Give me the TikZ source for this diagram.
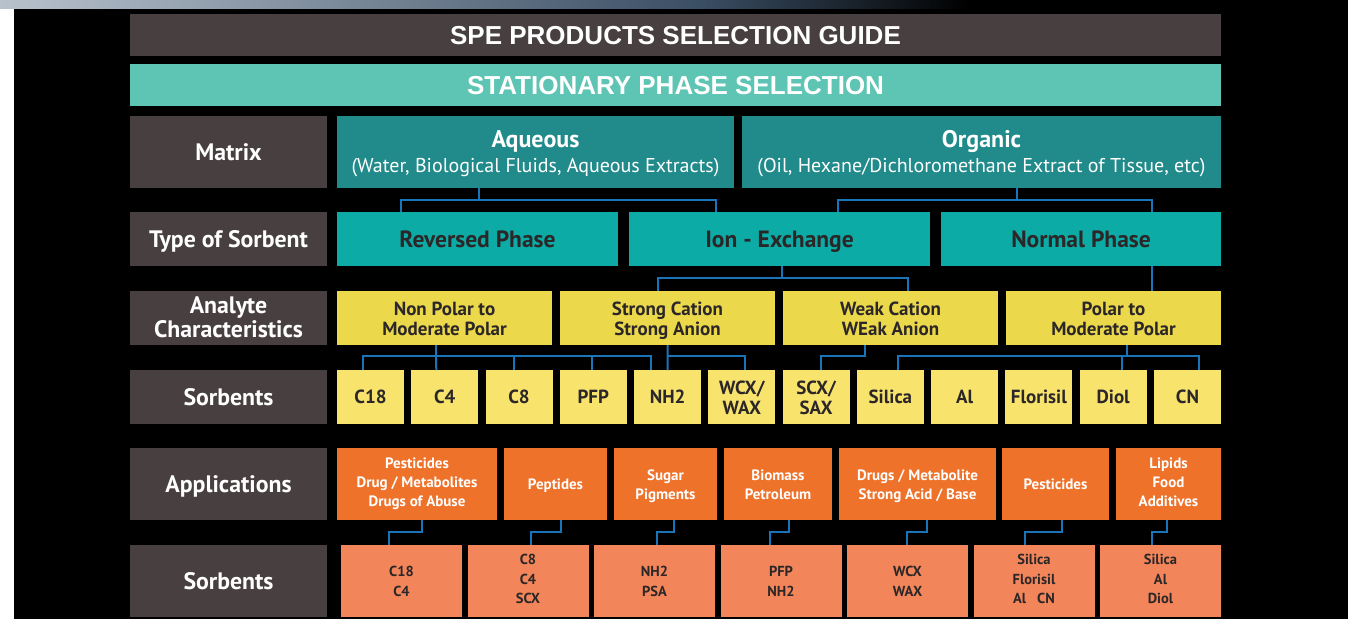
\documentclass[tikz,border=0pt]{standalone}
\usepackage{fontspec}
\setmainfont{PT Sans}
\newfontfamily\headfont{Liberation Sans}
\usetikzlibrary{positioning,calc}
\definecolor{stripL}{RGB}{184,194,205}
\definecolor{stripM}{RGB}{58,78,100}
\definecolor{headgray}{RGB}{72,63,64}
\definecolor{mint}{RGB}{94,196,179}
\definecolor{matteal}{RGB}{33,138,138}
\definecolor{typeteal}{RGB}{13,171,166}
\definecolor{anayellow}{RGB}{236,217,75}
\definecolor{sorbyellow}{RGB}{248,227,108}
\definecolor{apporange}{RGB}{238,114,42}
\definecolor{salmon}{RGB}{242,133,89}
\definecolor{linkblue}{RGB}{26,116,186}
\definecolor{ink}{RGB}{43,38,39}
\newcommand\topstrut{\rule{0pt}{1em}}
\newcommand\botstrut{\rule[-.3em]{0pt}{.3em}}
\newcommand\lift[1][1.07em]{\rule{0pt}{#1}}
\tikzset{
  cell/.style={rectangle,inner sep=0pt,outer sep=0pt,align=center,
               execute at begin node=\topstrut,execute at end node=\botstrut},
  banner/.style={cell,minimum width=1091pt,minimum height=42pt,text=white,
                 font=\headfont\bfseries\fontsize{26}{30}\selectfont},
  rowhead/.style={cell,fill=headgray,text=white,minimum width=197pt,
                  font=\bfseries\fontsize{23.8}{24}\selectfont},
  matbox/.style={cell,fill=matteal,text=white,minimum height=72pt,
                 font=\fontsize{20}{24.6}\selectfont},
  typebox/.style={cell,fill=typeteal,text=ink,minimum height=54pt,
                  font=\bfseries\fontsize{23.5}{25}\selectfont},
  anabox/.style={cell,fill=anayellow,text=ink,minimum width=215pt,minimum height=54pt,
                 font=\bfseries\fontsize{19}{20}\selectfont},
  sorbbox/.style={cell,fill=sorbyellow,text=ink,minimum width=67pt,minimum height=54pt,
                  font=\bfseries\fontsize{19}{20}\selectfont},
  appbox/.style={cell,fill=apporange,text=white,minimum height=72pt,
                 font=\bfseries\fontsize{15}{19}\selectfont},
  pickbox/.style={cell,fill=salmon,text=ink,minimum width=121pt,minimum height=72pt,
                  font=\bfseries\fontsize{14.5}{19.5}\selectfont},
  link/.style={draw=linkblue,line width=2pt}
}
\begin{document}
\begin{tikzpicture}[x=1pt,y=-1pt]
  \useasboundingbox (0,0) rectangle (1348,619);
  % backdrop
  \fill[black] (0,0) rectangle (1348,619);
  \fill[white] (0,8) rectangle (14,619);
  \shade[left color=stripL,right color=stripM] (0,0) rectangle (700,8);
  \shade[left color=stripM,right color=black] (700,0) rectangle (970,8);

  \node[banner,fill=headgray,anchor=north west] (title) at (130,14) {SPE PRODUCTS SELECTION GUIDE};
  \node[banner,fill=mint,anchor=north west] (stat) at (130,64) {STATIONARY PHASE SELECTION};

  % row headings
  \node[rowhead,minimum height=72pt,anchor=north west] (hmat) at (130,116) {Matrix};
  \node[rowhead,minimum height=54pt,anchor=north west] (htype) at (130,212) {Type of Sorbent};
  \node[rowhead,minimum height=54pt,anchor=north west] (hana) at (130,291) {\lift[.95em]Analyte\\Characteristics};
  \node[rowhead,minimum height=54pt,anchor=north west] (hsorb) at (130,370) {Sorbents};
  \node[rowhead,minimum height=72pt,anchor=north west] (happ) at (130,448) {Applications};
  \node[rowhead,minimum height=72pt,anchor=north west] (hpick) at (130,545) {Sorbents};

  % matrix
  \node[matbox,minimum width=397pt,anchor=north west] (aq) at (337,116)
    {\lift{\bfseries\fontsize{24}{26}\selectfont Aqueous}\\(Water, Biological Fluids, Aqueous Extracts)};
  \node[matbox,minimum width=479pt,right=8pt of aq] (org)
    {\lift{\bfseries\fontsize{24}{26}\selectfont Organic}\\(Oil, Hexane/Dichloromethane Extract of Tissue, etc)};

  % type of sorbent
  \node[typebox,minimum width=281pt,anchor=north west] (rp) at (337,212) {Reversed Phase};
  \node[typebox,minimum width=301pt,right=11pt of rp] (ie) {Ion - Exchange};
  \node[typebox,minimum width=280pt,right=11pt of ie] (np) {Normal Phase};

  % analyte characteristics
  \node[anabox,anchor=north west] (nonpol) at (337,291) {\lift Non Polar to\\Moderate Polar};
  \node[anabox,right=8pt of nonpol] (strong) {\lift Strong Cation\\Strong Anion};
  \node[anabox,right=8pt of strong] (weak) {\lift Weak Cation\\WEak Anion};
  \node[anabox,right=8pt of weak] (polar) {\lift Polar to\\Moderate Polar};

  % sorbents
  \node[sorbbox,anchor=north west] (c18) at (337,370) {C18};
  \node[sorbbox,right=7.27pt of c18] (c4) {C4};
  \node[sorbbox,right=7.27pt of c4] (c8) {C8};
  \node[sorbbox,right=7.27pt of c8] (pfp) {PFP};
  \node[sorbbox,right=7.27pt of pfp] (nh2) {NH2};
  \node[sorbbox,right=7.27pt of nh2] (wcx) {\lift WCX/\\WAX};
  \node[sorbbox,right=7.27pt of wcx] (scx) {\lift SCX/\\SAX};
  \node[sorbbox,right=7.27pt of scx] (silica) {Silica};
  \node[sorbbox,right=7.27pt of silica] (al) {Al};
  \node[sorbbox,right=7.27pt of al] (flor) {Florisil};
  \node[sorbbox,right=7.27pt of flor] (diol) {Diol};
  \node[sorbbox,right=7.27pt of diol] (cn) {CN};

  % applications
  \node[appbox,minimum width=160pt,anchor=north west] (app1) at (337,448)
    {Pesticides\\Drug / Metabolites\\Drugs of Abuse};
  \node[appbox,minimum width=103pt,right=7pt of app1] (app2) {Peptides};
  \node[appbox,minimum width=103pt,right=7pt of app2] (app3) {\lift Sugar\\Pigments};
  \node[appbox,minimum width=108pt,right=7pt of app3] (app4) {\lift Biomass\\Petroleum};
  \node[appbox,minimum width=157pt,right=7pt of app4] (app5) {\lift Drugs / Metabolite\\Strong Acid / Base};
  \node[appbox,minimum width=107pt,right=6pt of app5] (app6) {Pesticides};
  \node[appbox,minimum width=105pt,right=7pt of app6] (app7) {Lipids\\Food\\Additives};

  % recommended sorbents
  \node[pickbox,anchor=north west] (pick1) at (341,545) {\lift C18\\C4};
  \node[pickbox,right=5.5pt of pick1] (pick2) {C8\\C4\\SCX};
  \node[pickbox,right=5.5pt of pick2] (pick3) {\lift NH2\\PSA};
  \node[pickbox,right=5.5pt of pick3] (pick4) {\lift PFP\\NH2};
  \node[pickbox,right=5.5pt of pick4] (pick5) {\lift WCX\\WAX};
  \node[pickbox,right=5.5pt of pick5] (pick6) {Silica\\Florisil\\Al~~~CN};
  \node[pickbox,right=5.5pt of pick6] (pick7) {Silica\\Al\\Diol};

  % matrix -> type
  \draw[link] ($(aq.south)+(-56.5,0)$) -- ++(0,12) -| ($(rp.north)+(-76.5,0)$);
  \draw[link] ($(aq.south)+(-56.5,12)$) -| ($(ie.north)+(-63.5,0)$);
  \draw[link] ($(org.south)+(35.5,0)$) -- ++(0,12) -| ($(ie.north)+(58.5,0)$);
  \draw[link] ($(org.south)+(35.5,12)$) -| ($(np.north)+(71,0)$);

  % type -> analyte
  \draw[link] ($(ie.south)+(2.5,0)$) -- ++(0,12) -| ($(strong.north)+(-9.5,0)$);
  \draw[link] ($(ie.south)+(2.5,12)$) -| ($(weak.north)+(17.5,0)$);
  \draw[link] ($(np.south)+(71,0)$) -- ($(polar.north)+(38.5,0)$);

  % analyte -> sorbents
  \draw[link] ($(nonpol.south)+(-8.5,0)$) -- ($(c4.north)+(-8.5,0)$);
  \draw[link] ($(nonpol.south)+(-8.5,11)$) -| ($(c18.north)+(-7.5,0)$);
  \draw[link] ($(nonpol.south)+(-8.5,11)$) -| ($(c8.north)+(-5,0)$);
  \draw[link] ($(nonpol.south)+(-8.5,11)$) -| ($(pfp.north)+(-1,0)$);
  \draw[link] ($(nonpol.south)+(-8.5,11)$) -| ($(nh2.north)+(-16.5,0)$);
  \draw[link] (strong.south) -- (nh2.north);
  \draw[link] ($(strong.south)+(0,11)$) -| ($(wcx.north)+(3,0)$);
  \draw[link] ($(weak.south)+(-25.5,0)$) -- ++(0,11) -| ($(scx.north)+(5,0)$);
  \draw[link] ($(polar.south)+(13.5,0)$) -- ++(0,11) -| ($(silica.north)+(7.5,0)$);
  \draw[link] ($(polar.south)+(13.5,11)$) -| ($(diol.north)+(9,0)$);
  \draw[link] ($(polar.south)+(13.5,11)$) -| ($(cn.north)+(12,0)$);

  % applications -> recommended sorbents
  \draw[link] ($(app1.south)+(5,0)$) -- ++(0,12) -| ($(pick1.north)+(-12.5,0)$);
  \draw[link] ($(app2.south)+(5.5,0)$) -- ++(0,12) -| ($(pick2.north)+(3,0)$);
  \draw[link] ($(app3.south)+(8.5,0)$) -- ++(0,12) -| ($(pick3.north)+(2.5,0)$);
  \draw[link] ($(app4.south)+(11,0)$) -- ++(0,12) -| ($(pick4.north)+(-11,0)$);
  \draw[link] ($(app5.south)+(9.5,0)$) -- ++(0,12) -| ($(pick5.north)+(-0.5,0)$);
  \draw[link] ($(app6.south)+(6.5,0)$) -- ++(0,12) -| ($(pick6.north)+(-9,0)$);
  \draw[link] ($(app7.south)+(-1.5,0)$) -- ++(0,12) -| ($(pick7.north)+(-8.5,0)$);
\end{tikzpicture}
\end{document}
